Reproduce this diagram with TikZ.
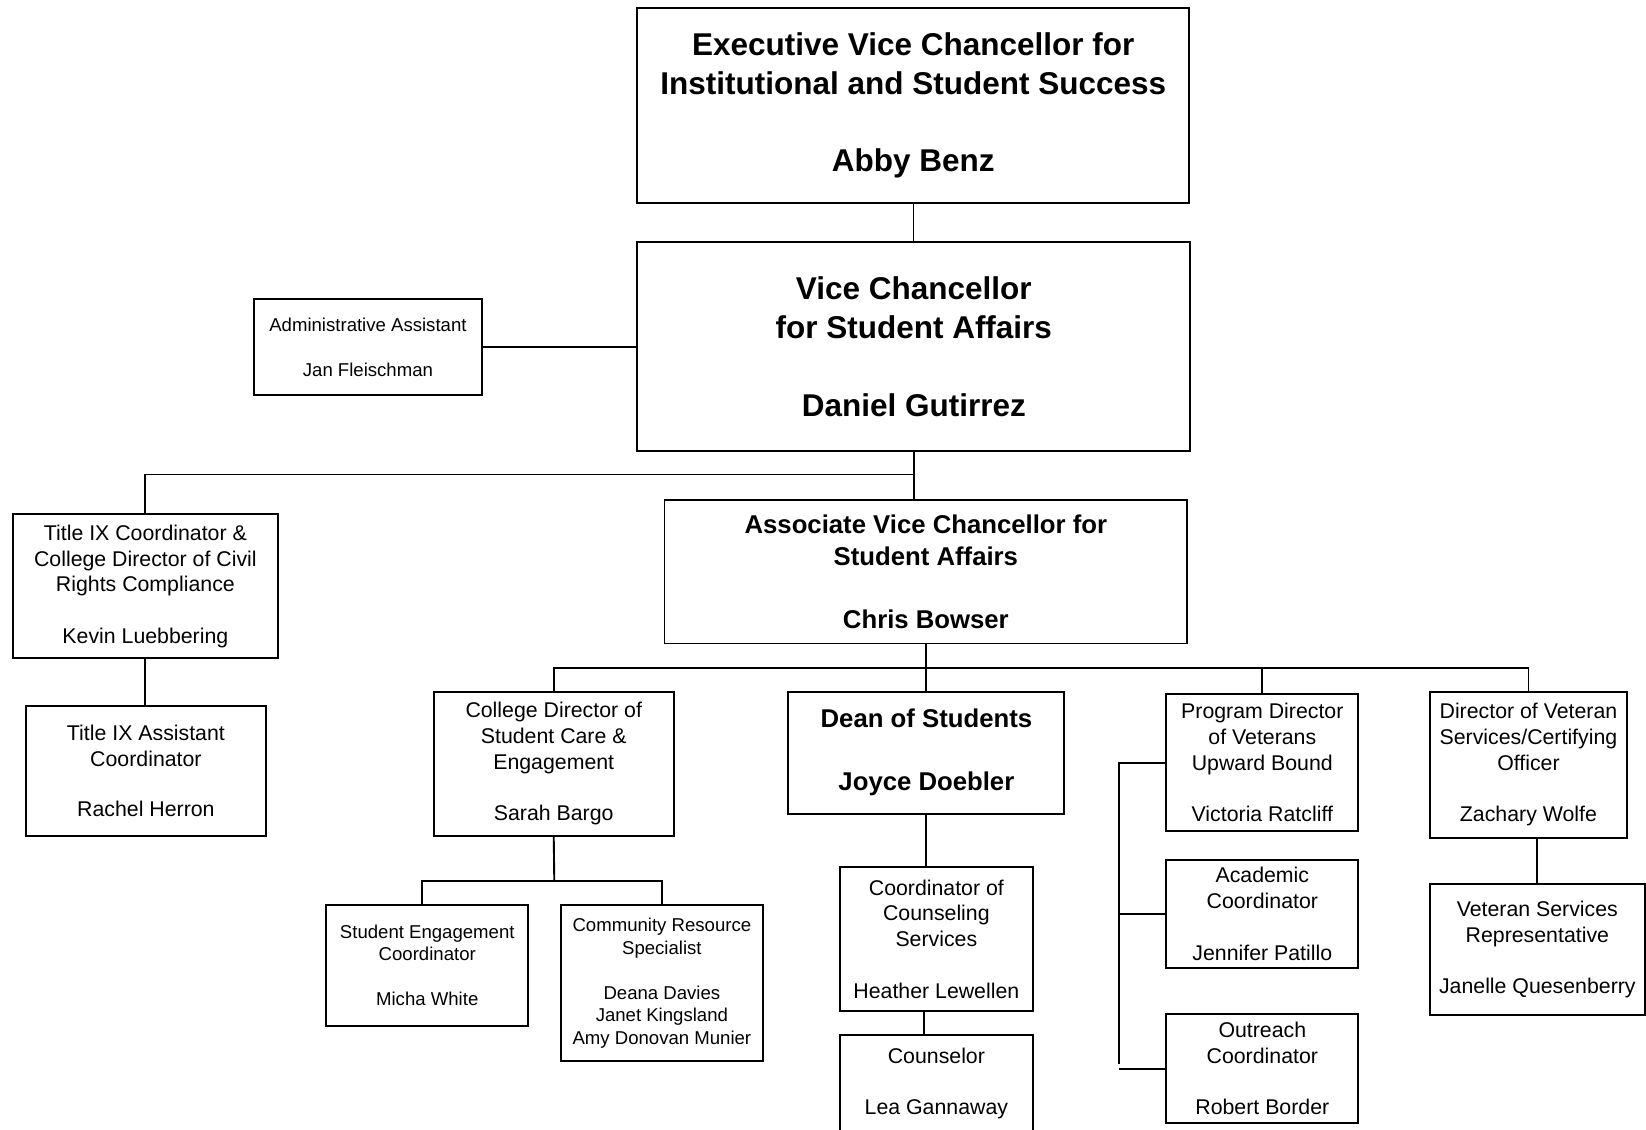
\documentclass[tikz,border=0pt]{standalone}
\usepackage{fontspec}
\setmainfont{Liberation Sans}
\tikzset{
  box/.style={draw, rectangle, line width=1.9pt, inner sep=0pt, align=center, fill=white},
  fbig/.style={font=\fontsize{30}{37}\selectfont\bfseries},
  fbmid/.style={font=\fontsize{24.5}{30}\selectfont\bfseries},
  freg/.style={font=\fontsize{20.3}{24.5}\selectfont},
  fsmall/.style={font=\fontsize{17.7}{21.5}\selectfont},
  conn/.style={draw, line width=1.8pt},
  thin conn/.style={draw, line width=1.3pt}
}
\newcommand\obox[7]{\node[box,#6,minimum width={#4-#2},minimum height={#5-#3}] (#1) at ({(#2+#4)/2},{(#3+#5)/2+1.5}) {\rule{0pt}{0pt}#7};}
\begin{document}
\begin{tikzpicture}[x=1pt,y=-1pt]
\fill[white] (0,0) rectangle (1568,1076);
\useasboundingbox (0,0) rectangle (1568,1076);

% boxes
\obox{evc}{607}{6.5}{1133}{191.5}{fbig}{Executive Vice Chancellor for\\Institutional and Student Success\\[37pt]Abby Benz}
\obox{vc}{607}{229.5}{1134}{428.5}{fbig}{Vice Chancellor\\for Student Affairs\\[37pt]Daniel Gutirrez}
\obox{adm}{242}{283.5}{459}{374.5}{fsmall}{Administrative Assistant\\[21.5pt]Jan Fleischman}
\obox{t9}{12}{488.5}{265}{625.5}{freg}{Title IX Coordinator \&\\College Director of Civil\\Rights Compliance\\[24.5pt]Kevin Luebbering}
\obox{ta}{25}{671.5}{253}{794.5}{freg}{Title IX Assistant\\Coordinator\\[23pt]Rachel Herron}
\obox{avc}{633}{474.5}{1131}{611.5}{fbmid}{Associate Vice Chancellor for\\Student Affairs\\[30pt]Chris Bowser}
\obox{cd}{413}{657.5}{642}{794.5}{freg}{College Director of\\Student Care \&\\Engagement\\[24.5pt]Sarah Bargo}
\obox{dean}{751}{657.5}{1014}{773.5}{fbmid}{Dean of Students\\[30pt]Joyce Doebler}
\obox{pd}{1111}{659.5}{1294}{790.5}{freg}{Program Director\\of Veterans\\Upward Bound\\[24.5pt]Victoria Ratcliff}
\obox{dv}{1362}{657.5}{1550}{796.5}{freg}{Director of Veteran\\Services/Certifying\\Officer\\[24.5pt]Zachary Wolfe}
\obox{sec}{311}{860.5}{503}{975.5}{fsmall}{Student Engagement\\Coordinator\\[21.5pt]Micha White}
\obox{crs}{534}{860.5}{727}{1009.5}{fsmall}{Community Resource\\Specialist\\[21.5pt]Deana Davies\\Janet Kingsland\\Amy Donovan Munier}
\obox{cc}{800}{824.5}{984}{961.5}{freg}{Coordinator of\\Counseling\\Services\\[24.5pt]Heather Lewellen}
\obox{cn}{800}{984.5}{984}{1076.5}{freg}{Counselor\\[24.5pt]Lea Gannaway}
\obox{ac}{1111}{817.5}{1294}{920.5}{freg}{Academic\\Coordinator\\[24.5pt]Jennifer Patillo}
\obox{oc}{1111}{964.5}{1294}{1068.5}{freg}{Outreach\\Coordinator\\[24.5pt]Robert Border}
\obox{vsr}{1362}{840.5}{1567}{965.5}{freg}{Veteran Services\\Representative\\[24.5pt]Janelle Quesenberry}

% connectors
\path[thin conn] (evc.south) -- (evc.south |- vc.north);
\path[thin conn] (adm.east) -- (adm.east -| vc.west);

\coordinate (j1) at (871,452);
\path[conn] (j1 |- vc.south) -- (j1 |- avc.north);
\path[conn] (j1) -| (t9.north);
\path[conn] (t9.south) -- (t9.south |- ta.north);

\coordinate (j2) at (882,636);
\path[conn] (avc.south) -- (j2);
\path[conn] (cd.north) |- (dv.north |- j2) -- (dv.north);
\path[conn] (dean.north) -- (dean.north |- j2);
\path[conn] (pd.north) -- (pd.north |- j2);

\coordinate (j3) at (528,839);
\path[conn] (cd.south) -- (j3);
\path[conn] ([xshift=-5pt]sec.north) |- (j3) -| (crs.north);

\path[conn] (dean.south) -- (dean.south |- cc.north);
\path[conn] ([xshift=-12pt]cc.south) -- ([xshift=-12pt]cc.south |- cn.north);

\coordinate (brt) at (1066,726);
\coordinate (brb) at (1066,1014);
\path[conn] (pd.west) -- (pd.west -| brt) -- (brb);
\path[conn] (ac.west) -- (ac.west -| brt);
\path[conn] (oc.west) -- (oc.west -| brt);

\path[conn] (vsr.north) -- (vsr.north |- dv.south);
\end{tikzpicture}
\end{document}
